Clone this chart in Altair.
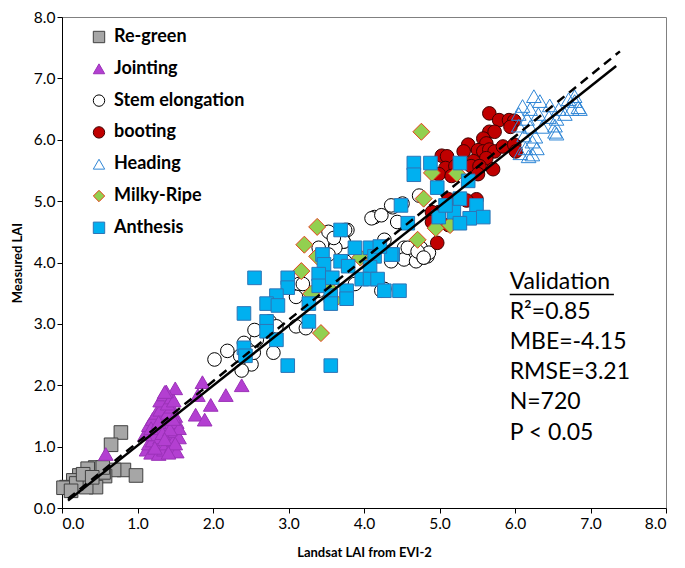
import altair as alt
import pandas as pd

# ---- data ----
stages = ["Re-green", "Jointing", "Stem elongation", "booting", "Heading", "Milky-Ripe", "Anthesis"]

regreen_x = [0.78, 0.65, 0.82, 0.98, 0.69, 0.57, 0.44, 0.34, 0.23, 0.15, 0.06, 0.02, 0.34, 0.45, 0.32, 0.55, 0.19, 0.54, 0.28, 0.12, 0.40]
regreen_y = [1.23, 1.03, 0.62, 0.53, 0.62, 0.52, 0.66, 0.64, 0.53, 0.45, 0.34, 0.33, 0.45, 0.34, 0.34, 0.58, 0.40, 0.66, 0.55, 0.28, 0.50]

jointing_x = [1.12, 1.15, 1.18, 1.20, 1.22, 1.25, 1.28, 1.30, 1.32, 1.35, 1.38, 1.40, 1.42, 1.45, 1.48, 1.50, 1.52, 1.55,
              1.10, 1.15, 1.20, 1.25, 1.30, 1.35, 1.40, 1.45, 1.50, 1.52, 1.55,
              1.30, 1.35, 1.40, 1.45, 1.50, 1.48, 1.38,
              1.18, 1.28, 1.33, 1.43, 1.47, 1.23, 1.36, 1.50, 1.41,
              0.58, 1.80, 1.86, 1.97, 1.77, 1.89, 2.17, 2.38, 1.36]
jointing_y = [0.95, 1.05, 0.90, 1.10, 1.20, 1.00, 0.88, 1.15, 1.30, 0.95, 1.05, 1.20, 1.35, 1.00, 1.10, 1.25, 0.92, 1.15,
              1.20, 1.35, 1.45, 1.55, 1.60, 1.45, 1.55, 1.65, 1.50, 1.40, 1.30,
              1.75, 1.85, 1.70, 1.80, 1.95, 1.75, 1.90,
              1.30, 1.40, 1.22, 1.28, 1.45, 0.98, 1.12, 1.05, 0.90,
              0.88, 1.84, 2.05, 1.68, 1.52, 1.44, 1.84, 2.00, 1.89]

stem_x = [2.02, 2.19, 2.36, 2.51, 2.38, 2.54, 2.80, 2.41, 2.58, 2.75, 2.55, 2.84, 3.10, 3.23, 3.14, 3.40, 3.40, 3.62,
          3.73, 3.78, 3.88, 4.23, 4.53, 4.75, 4.84, 4.36, 4.58, 4.14, 4.10, 4.38, 4.51, 3.73, 3.62, 3.53, 3.75, 4.27,
          4.53, 4.69, 4.79, 4.86, 3.19, 3.10, 4.27, 3.53, 3.75, 3.60, 4.23, 4.36, 4.73, 4.44, 4.58, 4.71, 4.79]
stem_y = [2.42, 2.56, 2.48, 2.34, 2.24, 2.53, 2.53, 2.69, 2.74, 3.04, 2.90, 2.96, 2.96, 2.93, 3.65, 3.54, 4.24, 4.29,
          4.34, 4.53, 3.65, 3.54, 4.24, 4.24, 4.10, 4.02, 4.08, 4.74, 4.72, 4.90, 4.96, 4.34, 4.24, 4.13, 4.02, 4.37,
          4.05, 4.02, 4.08, 4.16, 3.65, 3.44, 3.57, 4.50, 4.53, 4.40, 4.77, 4.93, 5.09, 4.66, 4.24, 4.18, 4.08]

booting_x = [5.66, 5.79, 5.92, 5.99, 5.94, 5.66, 5.73, 5.58, 5.62, 5.38, 5.32, 5.51, 5.58, 5.66, 5.73, 5.84, 5.99, 6.01,
             5.62, 5.45, 5.42, 5.53, 5.71, 5.51, 5.03, 5.10, 5.08, 4.99, 5.21, 5.16, 5.49, 5.36, 5.19, 5.12, 4.99, 4.90,
             5.12, 4.97, 4.90]
booting_y = [6.43, 6.32, 6.32, 6.31, 6.21, 6.13, 6.13, 6.02, 5.94, 5.92, 5.81, 5.83, 5.81, 5.84, 5.81, 5.89, 5.92, 5.81,
             5.70, 5.65, 5.57, 5.57, 5.52, 5.44, 5.74, 5.73, 5.54, 5.44, 5.57, 5.41, 5.03, 5.01, 4.98, 5.03, 4.82, 4.82,
             4.61, 4.32, 4.66]

heading_x = [6.25, 6.33, 6.10, 6.20, 6.46, 6.58, 6.71, 6.79, 6.84, 6.75, 6.05, 6.16, 6.31, 6.45, 6.55, 6.66, 6.05, 6.20,
             6.36, 6.53, 6.12, 6.27, 6.55, 6.14, 6.23, 6.07, 6.23, 6.29, 6.79, 6.86, 6.53, 6.18]
heading_y = [6.71, 6.63, 6.55, 6.50, 6.56, 6.50, 6.66, 6.71, 6.53, 6.50, 6.42, 6.34, 6.42, 6.37, 6.34, 6.42, 6.23, 6.21,
             6.21, 6.23, 6.07, 6.05, 6.10, 5.86, 5.97, 5.78, 5.76, 5.86, 6.63, 6.50, 6.13, 5.73]

milky_x = [4.76, 4.90, 5.23, 4.79, 4.95, 5.14, 4.71, 3.38, 3.21, 3.38, 3.17, 3.30, 3.43, 3.95, 3.60, 3.52]
milky_y = [6.13, 5.46, 5.45, 5.04, 4.56, 4.61, 4.37, 4.58, 4.29, 4.10, 3.86, 3.49, 2.85, 4.08, 3.38, 3.60]

anthesis_x = [3.69, 2.55, 2.99, 2.99, 2.84, 2.71, 2.86, 2.41, 2.71, 2.71, 2.84, 2.41, 2.43, 2.99, 3.56, 3.27, 3.27, 3.45,
              3.47, 3.40, 3.40, 3.58, 3.56, 3.56, 3.69, 3.79, 3.77, 3.77, 3.88, 4.08, 4.14, 4.08, 3.97, 4.08, 4.18, 4.27,
              4.47, 4.38, 4.66, 4.66, 4.88, 5.27, 4.97, 5.38, 4.49, 5.27, 5.49, 5.58, 5.19, 5.40, 5.27, 4.99, 5.08, 4.58,
              4.36, 4.21]
anthesis_y = [4.53, 3.75, 3.75, 3.59, 3.46, 3.33, 3.30, 3.17, 3.04, 2.88, 2.74, 2.61, 2.48, 2.32, 2.32, 3.33, 3.04, 4.13,
              3.97, 3.81, 3.62, 3.75, 3.46, 3.33, 4.02, 3.94, 3.54, 3.41, 4.24, 4.24, 4.10, 3.92, 3.73, 3.73, 3.73, 3.54,
              3.54, 4.13, 5.62, 5.43, 5.62, 5.62, 5.22, 5.33, 4.93, 5.04, 4.93, 4.74, 4.82, 4.72, 4.64, 4.74, 4.93, 4.64,
              4.13, 4.26]

series = {
    "Re-green": (regreen_x, regreen_y),
    "Jointing": (jointing_x, jointing_y),
    "Stem elongation": (stem_x, stem_y),
    "booting": (booting_x, booting_y),
    "Heading": (heading_x, heading_y),
    "Milky-Ripe": (milky_x, milky_y),
    "Anthesis": (anthesis_x, anthesis_y),
}

shapes = ["square", "triangle-up", "circle", "circle", "triangle-up", "diamond", "square"]
fills = ["#a6a6a6", "#b33fd1", "#ffffff", "#c00000", "transparent", "#92d050", "#00b0f0"]
strokes = ["#404040", "#9b32b8", "#000000", "#400000", "#2f86d6", "#e8401c", "#2e75b6"]
sizes = [185, 215, 185, 185, 215, 290, 185]

# fitted (solid) and 1:1 (dashed) lines, endpoints
fit_x = [0.08, 7.34]
fit_y = [0.12, 7.20]
one_x = [0.08, 7.39]
one_y = [0.15, 7.44]

stats_lines = ["Validation", "R\u00b2=0.85", "MBE=-4.15", "RMSE=3.21", "N=720", "P < 0.05"]
stats_y = [3.68, 3.19, 2.70, 2.21, 1.72, 1.22]
stats_x = 5.93

rows = []
for s in stages:
    xs_, ys_ = series[s]
    for a, b in zip(xs_, ys_):
        rows.append({"stage": s, "x": a, "y": b})
pts = pd.DataFrame(rows)

lines = pd.DataFrame(
    [{"kind": "fit", "x": a, "y": b} for a, b in zip(fit_x, fit_y)]
    + [{"kind": "one", "x": a, "y": b} for a, b in zip(one_x, one_y)]
)
stats = pd.DataFrame({"t": stats_lines, "y": stats_y, "x": [stats_x] * len(stats_lines)})
uline = pd.DataFrame({"x": [stats_x], "x2": [stats_x + 1.38], "y": [3.48]})

FONT = "Lato"

xs = alt.Scale(domain=[0, 8], nice=False, zero=False)
ys = alt.Scale(domain=[0, 8], nice=False, zero=False)

xaxis = alt.Axis(values=list(range(9)), format=".1f", title="Landsat LAI from EVI-2",
                 titleFont=FONT, titleFontSize=13, titleFontWeight="bold", titleColor="#000",
                 titleY=44, titleBaseline="middle",
                 labelFont=FONT, labelFontSize=15.5, labelColor="#000", labelPadding=3,
                 tickSize=5, tickColor="#000", domainColor="#000", grid=False)
yaxis = alt.Axis(values=list(range(9)), format=".1f", title="Measured LAI",
                 titleFont=FONT, titleFontSize=13, titleFontWeight="bold", titleColor="#000",
                 titleX=-45, titleBaseline="middle",
                 labelFont=FONT, labelFontSize=15.5, labelColor="#000", labelPadding=2,
                 tickSize=5, tickColor="#000", domainColor="#000", grid=False)

legend = alt.Legend(orient="none", legendX=28, legendY=11, title=None,
                    labelFont=FONT, labelFontWeight="bold", labelFontSize=18,
                    labelColor="#000", symbolSize=130, rowPadding=13.8,
                    labelOffset=6, padding=0, symbolStrokeWidth=1)

base = alt.Chart(pts).encode(
    x=alt.X("x:Q", scale=xs, axis=xaxis),
    y=alt.Y("y:Q", scale=ys, axis=yaxis),
    shape=alt.Shape("stage:N", scale=alt.Scale(domain=stages, range=shapes), legend=legend),
    fill=alt.Fill("stage:N", scale=alt.Scale(domain=stages, range=fills), legend=legend),
    stroke=alt.Stroke("stage:N", scale=alt.Scale(domain=stages, range=strokes), legend=legend),
)

point_layers = [
    base.transform_filter(alt.datum.stage == s).mark_point(filled=True, strokeWidth=1, opacity=1, size=sz)
    for s, sz in zip(stages, sizes)
]

fit_line = alt.Chart(lines).transform_filter(alt.datum.kind == "fit").mark_line(
    color="#000", strokeWidth=2.5).encode(x=alt.X("x:Q", scale=xs), y=alt.Y("y:Q", scale=ys))
one_line = alt.Chart(lines).transform_filter(alt.datum.kind == "one").mark_line(
    color="#000", strokeWidth=2.5, strokeDash=[9, 6]).encode(x=alt.X("x:Q", scale=xs), y=alt.Y("y:Q", scale=ys))

txt = alt.Chart(stats).mark_text(align="left", baseline="middle", font=FONT, fontSize=23, color="#000").encode(
    x=alt.X("x:Q", scale=xs), y=alt.Y("y:Q", scale=ys), text="t:N")
ul = alt.Chart(uline).mark_rule(color="#000", strokeWidth=1.5).encode(
    x=alt.X("x:Q", scale=xs), x2="x2:Q", y=alt.Y("y:Q", scale=ys))

chart = alt.layer(*point_layers, fit_line, one_line, txt, ul).properties(
    width=604, height=491,
    autosize=alt.AutoSizeParams(type="none"),
    padding={"left": 54, "top": 9, "right": 11, "bottom": 52},
    background="white",
).configure_view(stroke="#808080", strokeWidth=1)

chart.save("out.html", embed_options={"renderer": "svg", "actions": False})
